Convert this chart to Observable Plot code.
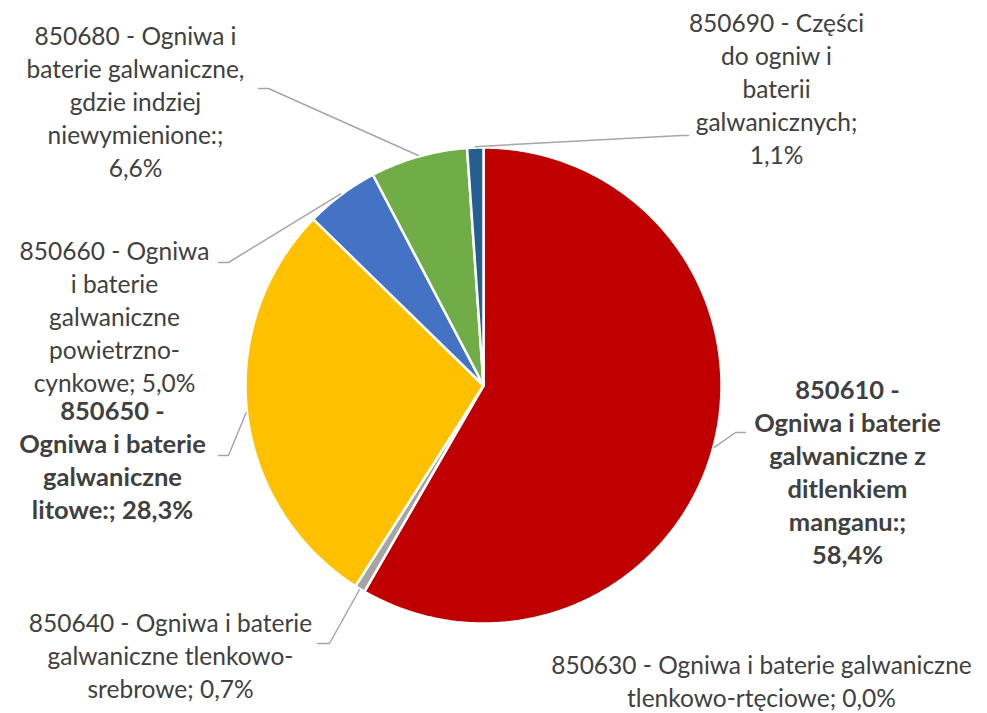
<!DOCTYPE html>
<html>
<head>
<meta charset="utf-8">
<script src="https://cdn.jsdelivr.net/npm/d3@7"></script>
<script src="https://cdn.jsdelivr.net/npm/@observablehq/plot@0.6"></script>
<style>
  html, body { margin: 0; padding: 0; background: #ffffff; }
</style>
</head>
<body>
<div id="chart"></div>
<script>
// ---- data ----
const codes = ["850610", "850630", "850640", "850650", "850660", "850680", "850690"];
const shares = [58.4, 0.0, 0.7, 28.3, 5.0, 6.6, 1.1];
const labelTexts = [
  "850610 -\nOgniwa i baterie\ngalwaniczne z\nditlenkiem\nmanganu:;\n58,4%",
  "850630 - Ogniwa i baterie galwaniczne\ntlenkowo-rtęciowe; 0,0%",
  "850640 - Ogniwa i baterie\ngalwaniczne tlenkowo-\nsrebrowe; 0,7%",
  "850650 -\nOgniwa i baterie\ngalwaniczne\nlitowe:; 28,3%",
  "850660 - Ogniwa\ni baterie\ngalwaniczne\npowietrzno-\ncynkowe; 5,0%",
  "850680 - Ogniwa i\nbaterie galwaniczne,\ngdzie indziej\nniewymienione:;\n6,6%",
  "850690 - Części\ndo ogniw i\nbaterii\ngalwanicznych;\n1,1%"
];

// ---- styles / layout ----
const colors = ["#C00000", "#ED7D31", "#A5A5A5", "#FFC000", "#4472C4", "#70AD47", "#255E91"];
const W = 987, H = 713;
const cx = 483, cy = 385, R = 238;
const fontFamily = "Lato, 'Open Sans', sans-serif";
const fontSizeRegular = 24.5;
const fontSizeBold = 25.5;
const lineGap = 33;
// label centre-x, first-line centre-y, bold, leader elbow points (null = no leader)
const labelLayout = {
  "850610": {x: 847, y: 392, bold: true,  leader: [[745, 432], [735, 432]]},
  "850630": {x: 761, y: 667, bold: false, leader: null},
  "850640": {x: 170, y: 625, bold: false, leader: [[317, 643], [329, 643]]},
  "850650": {x: 112, y: 413, bold: true,  leader: [[218, 455], [228, 455]]},
  "850660": {x: 114, y: 253, bold: false, leader: [[218, 262], [228, 262]]},
  "850680": {x: 135, y: 38,  bold: false, leader: [[258, 88], [268, 88]]},
  "850690": {x: 776, y: 25,  bold: false, leader: [[688, 135], [681, 135]]}
};

// ---- build ----
const rows = codes.map((c, i) => ({code: c, value: shares[i], label: labelTexts[i]}));
const arcs = d3.pie().sort(null).value(d => d.value)(rows);

const slicePts = [];
for (const a of arcs) {
  if (a.endAngle - a.startAngle <= 0) continue;
  const n = Math.max(2, Math.ceil((a.endAngle - a.startAngle) / (Math.PI / 360)));
  slicePts.push({code: a.data.code, px: cx, py: cy});
  for (let k = 0; k <= n; k++) {
    const t = a.startAngle + (a.endAngle - a.startAngle) * k / n;
    slicePts.push({code: a.data.code, px: cx + R * Math.sin(t), py: cy - R * Math.cos(t)});
  }
  slicePts.push({code: a.data.code, px: cx, py: cy});
}

const leaderPts = [];
for (const a of arcs) {
  const L = labelLayout[a.data.code];
  if (!L.leader) continue;
  const m = (a.startAngle + a.endAngle) / 2;
  for (const p of L.leader) leaderPts.push({code: a.data.code, px: p[0], py: p[1]});
  leaderPts.push({code: a.data.code, px: cx + (R + 1) * Math.sin(m), py: cy - (R + 1) * Math.cos(m)});
}

const labelRows = rows.map(d => ({...d, px: labelLayout[d.code].x, py: labelLayout[d.code].y - lineGap / 2, bold: labelLayout[d.code].bold}));

const plot = Plot.plot({
  width: W,
  height: H,
  margin: 0,
  x: {domain: [0, W], range: [0, W], axis: null},
  y: {domain: [0, H], range: [0, H], axis: null},
  color: {domain: codes, range: colors},
  style: {fontFamily, background: "#ffffff"},
  marks: [
    Plot.line(slicePts, {x: "px", y: "py", z: "code", fill: "code", stroke: "#ffffff", strokeWidth: 2.5, strokeLinejoin: "miter"}),
    Plot.line(leaderPts, {x: "px", y: "py", z: "code", stroke: "#A6A6A6", strokeWidth: 1.5}),
    Plot.text(labelRows.filter(d => !d.bold), {x: "px", y: "py", text: "label", textAnchor: "middle", lineAnchor: "top", lineHeight: lineGap / fontSizeRegular, fontSize: fontSizeRegular, fill: "#404040", fontFamily}),
    Plot.text(labelRows.filter(d => d.bold), {x: "px", y: "py", text: "label", textAnchor: "middle", lineAnchor: "top", lineHeight: lineGap / fontSizeBold, fontSize: fontSizeBold, fontWeight: "bold", fill: "#404040", fontFamily})
  ]
});
document.getElementById("chart").appendChild(plot);
</script>
</body>
</html>
